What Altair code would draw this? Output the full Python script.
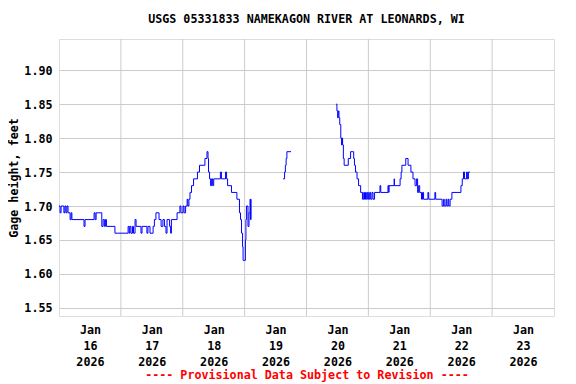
import altair as alt
import pandas as pd

# Gage height (feet); hours measured from 2026-01-16 00:00
seg1_hours = [0, 0.4, 0.8, 1.6, 1.9, 2.3, 2.7, 3.1, 3.5, 4.3, 4.7, 5.0, 9.7, 10.1,
              13.6, 14.0, 14.4, 16.6, 17.1, 17.6, 18.0, 18.4, 21.7, 26.8, 27.2, 27.5,
              27.9, 28.5, 28.9, 29.5, 29.9, 31.8, 32.2, 34.1, 34.5, 35.3, 36.5, 37.0,
              37.6, 38.8, 39.6, 40.3, 40.9, 41.5, 41.9, 42.9, 43.3, 43.6, 45.8, 46.9,
              47.3, 48.1, 48.5, 49.1, 49.7, 50.0, 50.4, 50.8, 51.4, 52.2, 53.7, 54.5,
              56.6, 57.4, 57.8, 58.0, 58.4, 58.8, 59.2, 59.6, 60.0, 62.6, 63.0, 64.6,
              65.0, 65.4, 66.9, 69.0, 70.0, 70.4, 70.8, 71.2, 71.4, 72.3, 72.5, 72.7,
              73.3, 73.7, 74.1, 74.3, 74.5]
seg1_values = [1.70, 1.69, 1.70, 1.70, 1.69, 1.70, 1.69, 1.70, 1.69, 1.68, 1.69, 1.68, 1.67, 1.68,
               1.69, 1.68, 1.69, 1.67, 1.68, 1.67, 1.68, 1.67, 1.66, 1.67, 1.66, 1.67,
               1.66, 1.67, 1.66, 1.68, 1.67, 1.66, 1.67, 1.66, 1.67, 1.66, 1.67, 1.68,
               1.69, 1.68, 1.67, 1.68, 1.67, 1.66, 1.68, 1.67, 1.66, 1.68, 1.69, 1.70,
               1.69, 1.70, 1.69, 1.70, 1.71, 1.70, 1.71, 1.72, 1.73, 1.74, 1.75, 1.76,
               1.77, 1.78, 1.77, 1.75, 1.74, 1.73, 1.74, 1.73, 1.74, 1.75, 1.74, 1.75,
               1.74, 1.73, 1.72, 1.71, 1.69, 1.68, 1.66, 1.64, 1.62, 1.65, 1.68, 1.70,
               1.67, 1.69, 1.71, 1.68, 1.71]

seg2_hours = [86.9, 87.5, 87.8, 88.1, 88.4, 90.0]
seg2_values = [1.74, 1.75, 1.76, 1.77, 1.78, 1.78]

seg3_hours = [107.4, 107.8, 108.1, 108.3, 108.6, 108.9, 109.3, 109.6, 109.8, 110.0,
              110.3, 110.6, 112.2, 113.1, 114.3, 114.6, 115.0, 115.6, 116.2, 117.0,
              117.7, 118.2, 118.5, 118.9, 119.2, 119.6, 120.0, 120.5, 120.9, 121.4,
              121.8, 122.4, 124.5, 124.8, 127.6, 127.9, 128.0, 130.0, 130.1, 132.3,
              132.7, 133.0, 134.5, 135.4, 136.5, 137.3, 138.1, 138.7, 139.1, 139.5,
              139.9, 140.6, 141.0, 141.4, 143.1, 143.4, 145.8, 146.1, 148.6, 149.2,
              149.4, 150.1, 150.4, 150.9, 151.2, 151.7, 152.4, 155.9, 156.4, 156.9,
              157.3, 158.1, 158.4, 158.8, 159.4]
seg3_values = [1.85, 1.84, 1.83, 1.84, 1.83, 1.82, 1.80, 1.79, 1.80, 1.79,
               1.77, 1.76, 1.77, 1.78, 1.77, 1.76, 1.75, 1.74, 1.73, 1.72,
               1.71, 1.72, 1.71, 1.72, 1.71, 1.72, 1.71, 1.72, 1.71, 1.72,
               1.71, 1.72, 1.73, 1.72, 1.73, 1.72, 1.73, 1.74, 1.73, 1.74,
               1.75, 1.76, 1.77, 1.76, 1.75, 1.74, 1.73, 1.74, 1.72, 1.73,
               1.72, 1.71, 1.72, 1.71, 1.72, 1.71, 1.72, 1.71, 1.70, 1.71,
               1.70, 1.71, 1.70, 1.71, 1.70, 1.71, 1.72, 1.73, 1.74, 1.75,
               1.74, 1.75, 1.74, 1.75, 1.75]

y_ticks = [1.55, 1.60, 1.65, 1.70, 1.75, 1.80, 1.85, 1.90]
label_days = [16, 17, 18, 19, 20, 21, 22, 23]
grid_days = [17, 18, 19, 20, 21, 22, 23]

base = pd.Timestamp("2026-01-16")


def to_iso(h):
    return (base + pd.to_timedelta(h, unit="h")).strftime("%Y-%m-%dT%H:%M:%SZ")


rows = []
for seg, (hs, vs) in enumerate([(seg1_hours, seg1_values), (seg2_hours, seg2_values),
                                (seg3_hours, seg3_values)]):
    for h, v in zip(hs, vs):
        rows.append({"t": to_iso(h), "v": v, "seg": seg})
df = pd.DataFrame(rows)

grid_df = pd.DataFrame({"t": [f"2026-01-{d:02d}T00:00:00Z" for d in grid_days]})

FONT = "DejaVu Sans Mono"

xscale = alt.Scale(type="utc",
                   domain=[alt.DateTime(year=2026, month=1, date=16, utc=True),
                           alt.DateTime(year=2026, month=1, date=24, utc=True)])
yscale = alt.Scale(domain=[1.538, 1.946], nice=False, zero=False)

x_axis = alt.Axis(
    values=[alt.DateTime(year=2026, month=1, date=d, hours=12, utc=True) for d in label_days],
    labelExpr="[utcFormat(datum.value, '%b'), utcFormat(datum.value, '%d'), utcFormat(datum.value, '%Y')]",
    grid=False, ticks=False, domain=False, labelPadding=8, labelLineHeight=16,
    labelFont=FONT, labelFontWeight="bold", labelFontSize=11.7, labelColor="black",
    title="---- Provisional Data Subject to Revision ----", titleColor="red",
    titleFont=FONT, titleFontWeight="bold", titleFontSize=11.7, titlePadding=2,
)

y_axis = alt.Axis(
    values=y_ticks, format=".2f", grid=True, gridColor="#cccccc", gridWidth=1,
    ticks=False, domain=False, labelPadding=7,
    labelFont=FONT, labelFontWeight="bold", labelFontSize=11.7, labelColor="black",
    title="Gage height, feet", titleFont=FONT, titleFontWeight="bold",
    titleFontSize=11.7, titleColor="black", titlePadding=4,
)

grid = alt.Chart(grid_df).mark_rule(color="#cccccc", strokeWidth=1).encode(
    x=alt.X("t:T", scale=xscale, axis=x_axis)
)

line = alt.Chart(df).mark_line(color="#0000ff", strokeWidth=1, interpolate="step-after").encode(
    x=alt.X("t:T", scale=xscale, axis=x_axis),
    y=alt.Y("v:Q", scale=yscale, axis=y_axis),
    detail="seg:N",
)

chart = alt.layer(grid, line).properties(
    width=495, height=277,
    title=alt.TitleParams("USGS 05331833 NAMEKAGON RIVER AT LEONARDS, WI",
                          font=FONT, fontWeight="bold", fontSize=11.7, color="black",
                          anchor="middle", offset=13),
    padding={"left": 51, "top": 31, "right": 14, "bottom": 66},
    autosize=alt.AutoSizeParams(type="none"),
).configure_view(stroke="black", strokeWidth=1).configure(background="white")

chart.save("out.html", embed_options={"renderer": "svg", "actions": False})
